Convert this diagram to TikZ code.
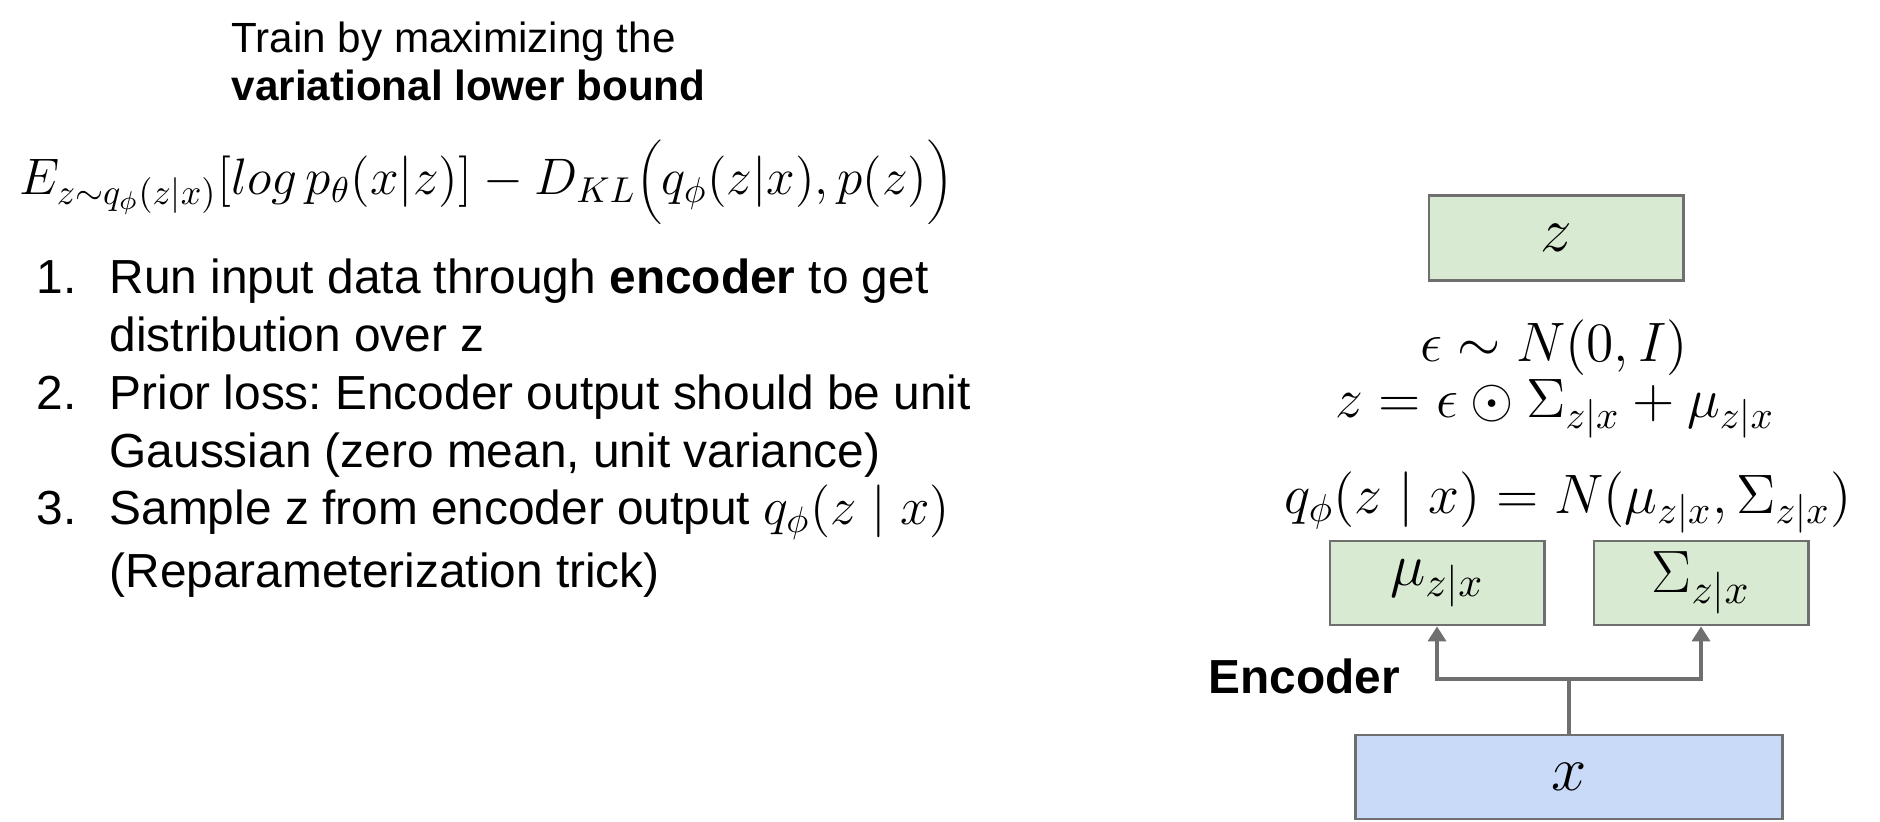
\RequirePackage{fix-cm}
\documentclass[tikz,border=0pt]{standalone}
\usepackage{fontspec}
\setmainfont{Liberation Sans}
\usetikzlibrary{arrows.meta}
\definecolor{latentfill}{HTML}{D9EAD3}
\definecolor{inputfill}{HTML}{C9DAF8}
\definecolor{edgegrey}{HTML}{6F6F6F}
\frenchspacing

\begin{document}
\begin{tikzpicture}[x=0.01cm,y=-0.01cm,
    latent/.style={draw=edgegrey,line width=0.8pt,fill=latentfill,inner sep=0pt,minimum height=0.85cm},
    input/.style={draw=edgegrey,line width=0.8pt,fill=inputfill,inner sep=0pt,minimum height=0.84cm},
    wire/.style={draw=edgegrey,line width=1.3pt},
    feed/.style={wire,-{Triangle[width=0.18cm,length=0.15cm]}},
    body/.style={font=\fontsize{13.6}{16.4}\selectfont,inner sep=0pt},
    eqn/.style={font=\fontsize{15.8}{18}\selectfont,inner sep=0pt,anchor=base}]
\useasboundingbox (0,0) rectangle (1880,822);
\node[body,anchor=base west,font=\fontsize{12}{13.65}\selectfont] (title) at (231,53)
    {\begin{tabular}[t]{@{}l@{}}Train by maximizing the\\\textbf{variational lower bound}\end{tabular}};
\node[anchor=base west,inner sep=0pt,font=\fontsize{14.6}{17}\selectfont] (elbo) at (19,195)
    {$E_{z\sim q_\phi(z|x)}[log\,p_\theta(x|z)]-D_{KL}\bigg(q_\phi(z|x),p(z)\bigg)$};
\node[body,anchor=base west] (steps) at (36,294)
    {\begin{tabular}[t]{@{}l@{\hspace{0.33cm}}l@{}}
     1. & Run input data through \textbf{encoder} to get\\
        & distribution over z\\
     2. & Prior loss: Encoder output should be unit\\
        & Gaussian (zero mean, unit variance)\\
     3. & Sample z from encoder output {\fontsize{15}{16}\selectfont$q_\phi(z\mid x)$}\\[0.05cm]
        & (Reparameterization trick)
     \end{tabular}};
\node[latent,minimum width=2.54cm,font=\fontsize{18}{20}\selectfont] (z) at (1556,238) {$z$};
\node[eqn] (noise) at (1554,362) {$\epsilon\sim N(0,I)$};
\node[eqn] (reparam) at (1555,418) {$z=\epsilon\odot\Sigma_{z|x}+\mu_{z|x}$};
\node[eqn] (posterior) at (1568,513) {$q_\phi(z\mid x)=N(\mu_{z|x},\Sigma_{z|x})$};
\node[latent,minimum width=2.14cm,minimum height=0.84cm,font=\fontsize{17}{19}\selectfont] (mu) at (1437,583) {$\mu_{z|x}$};
\node[latent,minimum width=2.14cm,minimum height=0.84cm,font=\fontsize{17}{19}\selectfont] (sigma) at (1701,583) {$\Sigma_{z|x}$};
\node[input,minimum width=4.27cm,font=\fontsize{18}{20}\selectfont] (x) at (1569,777) {$x$};
\node[body,anchor=base west,font=\fontsize{13.6}{16}\selectfont\bfseries] (enc) at (1208,693) {Encoder};
\coordinate (fork) at (1569,679);
\draw[wire] (x.north) -- (fork);
\draw[feed] (fork) -| (mu.south);
\draw[feed] (fork) -| (sigma.south);
\end{tikzpicture}
\end{document}
